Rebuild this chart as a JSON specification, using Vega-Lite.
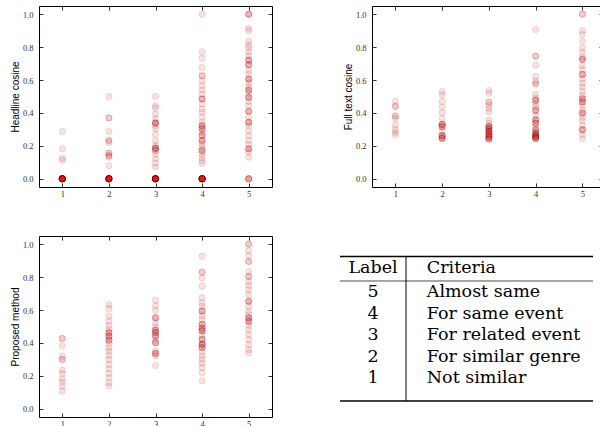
{
  "$schema": "https://vega.github.io/schema/vega-lite/v6.json",
  "padding": {"left": 9, "top": 5, "right": 0, "bottom": 0},
  "spacing": 37,
  "config": {
    "font": "Liberation Sans",
    "view": {"stroke": "black", "strokeWidth": 1},
    "axis": {
      "domain": false, "grid": false,
      "labelFont": "Liberation Serif", "labelFontSize": 8.5, "labelColor": "#333",
      "labelFlush": false, "labelOverlap": false,
      "tickColor": "black", "tickSize": -4, "tickWidth": 0.8,
      "titleFont": "Liberation Sans", "titleFontSize": 10, "titleFontWeight": "normal", "titleColor": "black", "titlePadding": 2
    },
    "axisX": {"labelPadding": 6},
    "axisY": {"labelPadding": 10}
  },
  "datasets": {
    "headline": [
      {"label":1,"score":0},{"label":1,"score":0},{"label":1,"score":0},{"label":1,"score":0},{"label":1,"score":0},{"label":1,"score":0},{"label":1,"score":0},{"label":1,"score":0},{"label":1,"score":0},{"label":1,"score":0},
      {"label":1,"score":0},{"label":1,"score":0},{"label":1,"score":0},{"label":1,"score":0},{"label":1,"score":0},{"label":1,"score":0},{"label":1,"score":0},{"label":1,"score":0},{"label":1,"score":0},{"label":1,"score":0},
      {"label":1,"score":0.288},{"label":1,"score":0.182},{"label":1,"score":0.125},{"label":1,"score":0.113},
      {"label":2,"score":0},{"label":2,"score":0},{"label":2,"score":0},{"label":2,"score":0},{"label":2,"score":0},{"label":2,"score":0},{"label":2,"score":0},{"label":2,"score":0},{"label":2,"score":0},{"label":2,"score":0},
      {"label":2,"score":0},{"label":2,"score":0},{"label":2,"score":0},{"label":2,"score":0},{"label":2,"score":0},{"label":2,"score":0},{"label":2,"score":0},{"label":2,"score":0},{"label":2,"score":0},{"label":2,"score":0},
      {"label":2,"score":0.499},{"label":2,"score":0.37},{"label":2,"score":0.37},{"label":2,"score":0.287},{"label":2,"score":0.233},{"label":2,"score":0.233},{"label":2,"score":0.22},{"label":2,"score":0.156},{"label":2,"score":0.156},{"label":2,"score":0.141},{"label":2,"score":0.141},{"label":2,"score":0.131},{"label":2,"score":0.079},
      {"label":3,"score":0},{"label":3,"score":0},{"label":3,"score":0},{"label":3,"score":0},{"label":3,"score":0},{"label":3,"score":0},{"label":3,"score":0},{"label":3,"score":0},{"label":3,"score":0},{"label":3,"score":0},
      {"label":3,"score":0},{"label":3,"score":0},{"label":3,"score":0},{"label":3,"score":0},{"label":3,"score":0},{"label":3,"score":0},{"label":3,"score":0},{"label":3,"score":0},{"label":3,"score":0},{"label":3,"score":0},
      {"label":3,"score":0.5},{"label":3,"score":0.444},{"label":3,"score":0.43},{"label":3,"score":0.394},{"label":3,"score":0.364},{"label":3,"score":0.339},{"label":3,"score":0.339},{"label":3,"score":0.339},{"label":3,"score":0.339},{"label":3,"score":0.323},{"label":3,"score":0.303},{"label":3,"score":0.27},{"label":3,"score":0.232},{"label":3,"score":0.202},{"label":3,"score":0.186},{"label":3,"score":0.186},{"label":3,"score":0.186},{"label":3,"score":0.186},{"label":3,"score":0.172},{"label":3,"score":0.172},{"label":3,"score":0.15},{"label":3,"score":0.121},{"label":3,"score":0.095},{"label":3,"score":0.071},
      {"label":4,"score":0},{"label":4,"score":0},{"label":4,"score":0},{"label":4,"score":0},{"label":4,"score":0},{"label":4,"score":0},{"label":4,"score":0},{"label":4,"score":0},{"label":4,"score":0},{"label":4,"score":0},
      {"label":4,"score":0},{"label":4,"score":0},{"label":4,"score":0},{"label":4,"score":0},{"label":4,"score":0},{"label":4,"score":0},{"label":4,"score":0},{"label":4,"score":0},{"label":4,"score":0},{"label":4,"score":0},
      {"label":4,"score":1.0},{"label":4,"score":0.772},{"label":4,"score":0.733},{"label":4,"score":0.677},{"label":4,"score":0.626},{"label":4,"score":0.626},{"label":4,"score":0.596},{"label":4,"score":0.566},{"label":4,"score":0.539},{"label":4,"score":0.515},{"label":4,"score":0.485},{"label":4,"score":0.485},{"label":4,"score":0.485},{"label":4,"score":0.455},{"label":4,"score":0.424},{"label":4,"score":0.404},{"label":4,"score":0.374},{"label":4,"score":0.343},{"label":4,"score":0.323},{"label":4,"score":0.323},{"label":4,"score":0.323},{"label":4,"score":0.303},{"label":4,"score":0.303},{"label":4,"score":0.303},{"label":4,"score":0.283},{"label":4,"score":0.263},{"label":4,"score":0.263},{"label":4,"score":0.263},{"label":4,"score":0.232},{"label":4,"score":0.232},{"label":4,"score":0.232},{"label":4,"score":0.212},{"label":4,"score":0.192},{"label":4,"score":0.172},{"label":4,"score":0.172},{"label":4,"score":0.172},{"label":4,"score":0.152},{"label":4,"score":0.131},{"label":4,"score":0.111},{"label":4,"score":0.095},
      {"label":5,"score":0},{"label":5,"score":0},{"label":5,"score":0},{"label":5,"score":0},
      {"label":5,"score":1.0},{"label":5,"score":1.0},{"label":5,"score":1.0},{"label":5,"score":0.915},{"label":5,"score":0.9},{"label":5,"score":0.838},{"label":5,"score":0.814},{"label":5,"score":0.798},{"label":5,"score":0.772},{"label":5,"score":0.747},{"label":5,"score":0.721},{"label":5,"score":0.721},{"label":5,"score":0.721},{"label":5,"score":0.693},{"label":5,"score":0.693},{"label":5,"score":0.693},{"label":5,"score":0.66},{"label":5,"score":0.636},{"label":5,"score":0.606},{"label":5,"score":0.606},{"label":5,"score":0.606},{"label":5,"score":0.582},{"label":5,"score":0.56},{"label":5,"score":0.539},{"label":5,"score":0.539},{"label":5,"score":0.539},{"label":5,"score":0.519},{"label":5,"score":0.495},{"label":5,"score":0.495},{"label":5,"score":0.495},{"label":5,"score":0.47},{"label":5,"score":0.444},{"label":5,"score":0.41},{"label":5,"score":0.41},{"label":5,"score":0.41},{"label":5,"score":0.374},{"label":5,"score":0.343},{"label":5,"score":0.343},{"label":5,"score":0.343},{"label":5,"score":0.323},{"label":5,"score":0.293},{"label":5,"score":0.263},{"label":5,"score":0.232},{"label":5,"score":0.208},{"label":5,"score":0.182},{"label":5,"score":0.182},{"label":5,"score":0.182},{"label":5,"score":0.162},{"label":5,"score":0.131}
    ],
    "fulltext": [
      {"label":1,"score":0.47},{"label":1,"score":0.44},{"label":1,"score":0.44},{"label":1,"score":0.382},{"label":1,"score":0.382},{"label":1,"score":0.366},{"label":1,"score":0.326},{"label":1,"score":0.3},{"label":1,"score":0.282},{"label":1,"score":0.266},
      {"label":2,"score":0.53},{"label":2,"score":0.51},{"label":2,"score":0.47},{"label":2,"score":0.436},{"label":2,"score":0.402},{"label":2,"score":0.366},{"label":2,"score":0.33},{"label":2,"score":0.33},{"label":2,"score":0.33},{"label":2,"score":0.33},{"label":2,"score":0.316},{"label":2,"score":0.316},{"label":2,"score":0.316},{"label":2,"score":0.29},{"label":2,"score":0.262},{"label":2,"score":0.262},{"label":2,"score":0.262},{"label":2,"score":0.262},{"label":2,"score":0.246},{"label":2,"score":0.246},{"label":2,"score":0.246},{"label":2,"score":0.246},
      {"label":3,"score":0.536},{"label":3,"score":0.52},{"label":3,"score":0.466},{"label":3,"score":0.466},{"label":3,"score":0.446},{"label":3,"score":0.426},{"label":3,"score":0.406},{"label":3,"score":0.356},{"label":3,"score":0.336},{"label":3,"score":0.316},{"label":3,"score":0.316},{"label":3,"score":0.316},{"label":3,"score":0.316},{"label":3,"score":0.302},{"label":3,"score":0.302},{"label":3,"score":0.302},{"label":3,"score":0.302},{"label":3,"score":0.286},{"label":3,"score":0.286},{"label":3,"score":0.286},{"label":3,"score":0.286},{"label":3,"score":0.27},{"label":3,"score":0.27},{"label":3,"score":0.27},{"label":3,"score":0.27},{"label":3,"score":0.256},{"label":3,"score":0.256},{"label":3,"score":0.256},{"label":3,"score":0.256},{"label":3,"score":0.242},{"label":3,"score":0.242},{"label":3,"score":0.242},{"label":3,"score":0.242},
      {"label":4,"score":0.907},{"label":4,"score":0.745},{"label":4,"score":0.745},{"label":4,"score":0.69},{"label":4,"score":0.622},{"label":4,"score":0.593},{"label":4,"score":0.577},{"label":4,"score":0.577},{"label":4,"score":0.512},{"label":4,"score":0.492},{"label":4,"score":0.476},{"label":4,"score":0.476},{"label":4,"score":0.476},{"label":4,"score":0.455},{"label":4,"score":0.435},{"label":4,"score":0.415},{"label":4,"score":0.415},{"label":4,"score":0.415},{"label":4,"score":0.385},{"label":4,"score":0.358},{"label":4,"score":0.358},{"label":4,"score":0.358},{"label":4,"score":0.338},{"label":4,"score":0.338},{"label":4,"score":0.338},{"label":4,"score":0.318},{"label":4,"score":0.298},{"label":4,"score":0.298},{"label":4,"score":0.298},{"label":4,"score":0.277},{"label":4,"score":0.277},{"label":4,"score":0.277},{"label":4,"score":0.277},{"label":4,"score":0.263},{"label":4,"score":0.263},{"label":4,"score":0.263},{"label":4,"score":0.263},{"label":4,"score":0.253},{"label":4,"score":0.253},{"label":4,"score":0.253},{"label":4,"score":0.253},{"label":4,"score":0.243},{"label":4,"score":0.243},{"label":4,"score":0.243},
      {"label":5,"score":1.0},{"label":5,"score":1.0},{"label":5,"score":0.9},{"label":5,"score":0.877},{"label":5,"score":0.834},{"label":5,"score":0.796},{"label":5,"score":0.769},{"label":5,"score":0.739},{"label":5,"score":0.725},{"label":5,"score":0.725},{"label":5,"score":0.725},{"label":5,"score":0.688},{"label":5,"score":0.664},{"label":5,"score":0.634},{"label":5,"score":0.634},{"label":5,"score":0.634},{"label":5,"score":0.607},{"label":5,"score":0.581},{"label":5,"score":0.557},{"label":5,"score":0.532},{"label":5,"score":0.506},{"label":5,"score":0.486},{"label":5,"score":0.486},{"label":5,"score":0.486},{"label":5,"score":0.466},{"label":5,"score":0.466},{"label":5,"score":0.466},{"label":5,"score":0.445},{"label":5,"score":0.419},{"label":5,"score":0.399},{"label":5,"score":0.399},{"label":5,"score":0.399},{"label":5,"score":0.374},{"label":5,"score":0.354},{"label":5,"score":0.324},{"label":5,"score":0.298},{"label":5,"score":0.298},{"label":5,"score":0.298},{"label":5,"score":0.269},{"label":5,"score":0.243}
    ],
    "proposed": [
      {"label":1,"score":0.427},{"label":1,"score":0.427},{"label":1,"score":0.381},{"label":1,"score":0.32},{"label":1,"score":0.3},{"label":1,"score":0.3},{"label":1,"score":0.235},{"label":1,"score":0.215},{"label":1,"score":0.182},{"label":1,"score":0.162},{"label":1,"score":0.138},{"label":1,"score":0.107},
      {"label":2,"score":0.632},{"label":2,"score":0.608},{"label":2,"score":0.563},{"label":2,"score":0.532},{"label":2,"score":0.506},{"label":2,"score":0.482},{"label":2,"score":0.462},{"label":2,"score":0.462},{"label":2,"score":0.462},{"label":2,"score":0.441},{"label":2,"score":0.441},{"label":2,"score":0.441},{"label":2,"score":0.417},{"label":2,"score":0.417},{"label":2,"score":0.417},{"label":2,"score":0.397},{"label":2,"score":0.37},{"label":2,"score":0.35},{"label":2,"score":0.324},{"label":2,"score":0.3},{"label":2,"score":0.269},{"label":2,"score":0.243},{"label":2,"score":0.215},{"label":2,"score":0.188},{"label":2,"score":0.158},{"label":2,"score":0.138},
      {"label":3,"score":0.66},{"label":3,"score":0.627},{"label":3,"score":0.6},{"label":3,"score":0.553},{"label":3,"score":0.553},{"label":3,"score":0.553},{"label":3,"score":0.522},{"label":3,"score":0.498},{"label":3,"score":0.478},{"label":3,"score":0.478},{"label":3,"score":0.478},{"label":3,"score":0.462},{"label":3,"score":0.462},{"label":3,"score":0.462},{"label":3,"score":0.441},{"label":3,"score":0.441},{"label":3,"score":0.441},{"label":3,"score":0.417},{"label":3,"score":0.401},{"label":3,"score":0.401},{"label":3,"score":0.401},{"label":3,"score":0.35},{"label":3,"score":0.336},{"label":3,"score":0.336},{"label":3,"score":0.336},{"label":3,"score":0.32},{"label":3,"score":0.263},
      {"label":4,"score":0.927},{"label":4,"score":0.83},{"label":4,"score":0.83},{"label":4,"score":0.794},{"label":4,"score":0.745},{"label":4,"score":0.675},{"label":4,"score":0.644},{"label":4,"score":0.624},{"label":4,"score":0.594},{"label":4,"score":0.594},{"label":4,"score":0.594},{"label":4,"score":0.564},{"label":4,"score":0.543},{"label":4,"score":0.513},{"label":4,"score":0.513},{"label":4,"score":0.513},{"label":4,"score":0.489},{"label":4,"score":0.489},{"label":4,"score":0.489},{"label":4,"score":0.473},{"label":4,"score":0.473},{"label":4,"score":0.473},{"label":4,"score":0.448},{"label":4,"score":0.422},{"label":4,"score":0.422},{"label":4,"score":0.422},{"label":4,"score":0.392},{"label":4,"score":0.392},{"label":4,"score":0.392},{"label":4,"score":0.392},{"label":4,"score":0.372},{"label":4,"score":0.372},{"label":4,"score":0.372},{"label":4,"score":0.347},{"label":4,"score":0.321},{"label":4,"score":0.301},{"label":4,"score":0.277},{"label":4,"score":0.251},{"label":4,"score":0.22},{"label":4,"score":0.17},
      {"label":5,"score":1.0},{"label":5,"score":1.0},{"label":5,"score":0.96},{"label":5,"score":0.931},{"label":5,"score":0.895},{"label":5,"score":0.895},{"label":5,"score":0.834},{"label":5,"score":0.804},{"label":5,"score":0.804},{"label":5,"score":0.774},{"label":5,"score":0.749},{"label":5,"score":0.723},{"label":5,"score":0.693},{"label":5,"score":0.653},{"label":5,"score":0.653},{"label":5,"score":0.653},{"label":5,"score":0.622},{"label":5,"score":0.592},{"label":5,"score":0.572},{"label":5,"score":0.552},{"label":5,"score":0.552},{"label":5,"score":0.552},{"label":5,"score":0.531},{"label":5,"score":0.531},{"label":5,"score":0.531},{"label":5,"score":0.507},{"label":5,"score":0.481},{"label":5,"score":0.451},{"label":5,"score":0.42},{"label":5,"score":0.39},{"label":5,"score":0.36},{"label":5,"score":0.34}
    ],
    "criteria": [
      {"label":5,"criteria":"Almost same"},
      {"label":4,"criteria":"For same event"},
      {"label":3,"criteria":"For related event"},
      {"label":2,"criteria":"For similar genre"},
      {"label":1,"criteria":"Not similar"}
    ]
  },
  "vconcat": [
    {
      "spacing": 69,
      "hconcat": [
        {
          "width": 233, "height": 181,
          "data": {"name": "headline"},
          "layer": [
            {
              "mark": {"type": "circle", "size": 40, "fill": "red", "fillOpacity": 0.12, "stroke": "black", "strokeOpacity": 0.12, "strokeWidth": 0.8},
              "encoding": {
                "x": {"field": "label", "type": "quantitative", "scale": {"domain": [0.5, 5.5], "nice": false, "zero": false}, "axis": {"values": [1,2,3,4,5], "format": "d", "title": null}},
                "y": {"field": "score", "type": "quantitative", "scale": {"domain": [-0.05, 1.05], "nice": false, "zero": false}, "axis": {"values": [0,0.2,0.4,0.6,0.8,1.0], "format": ".1f", "title": "Headline cosine"}}
              }
            },
            {
              "mark": {"type": "circle", "opacity": 0},
              "encoding": {
                "x": {"field": "label", "type": "quantitative", "scale": {"domain": [0.5, 5.5], "nice": false, "zero": false}, "axis": {"orient": "top", "values": [1,2,3,4,5], "labels": false, "title": null}},
                "y": {"field": "score", "type": "quantitative", "scale": {"domain": [-0.05, 1.05], "nice": false, "zero": false}, "axis": {"orient": "right", "values": [0,0.2,0.4,0.6,0.8,1.0], "labels": false, "title": null}}
              }
            }
          ],
          "resolve": {"scale": {"x": "independent", "y": "independent"}, "axis": {"x": "independent", "y": "independent"}}
        },
        {
          "width": 231, "height": 181,
          "data": {"name": "fulltext"},
          "layer": [
            {
              "mark": {"type": "circle", "size": 40, "fill": "red", "fillOpacity": 0.12, "stroke": "black", "strokeOpacity": 0.12, "strokeWidth": 0.8},
              "encoding": {
                "x": {"field": "label", "type": "quantitative", "scale": {"domain": [0.5, 5.44], "nice": false, "zero": false}, "axis": {"values": [1,2,3,4,5], "format": "d", "title": null}},
                "y": {"field": "score", "type": "quantitative", "scale": {"domain": [-0.05, 1.05], "nice": false, "zero": false}, "axis": {"values": [0,0.2,0.4,0.6,0.8,1.0], "format": ".1f", "title": "Full text cosine"}}
              }
            },
            {
              "mark": {"type": "circle", "opacity": 0},
              "encoding": {
                "x": {"field": "label", "type": "quantitative", "scale": {"domain": [0.5, 5.44], "nice": false, "zero": false}, "axis": {"orient": "top", "values": [1,2,3,4,5], "labels": false, "title": null}},
                "y": {"field": "score", "type": "quantitative", "scale": {"domain": [-0.05, 1.05], "nice": false, "zero": false}, "axis": {"orient": "right", "values": [0,0.2,0.4,0.6,0.8,1.0], "labels": false, "title": null}}
              }
            }
          ],
          "resolve": {"scale": {"x": "independent", "y": "independent"}, "axis": {"x": "independent", "y": "independent"}}
        }
      ]
    },
    {
      "spacing": 66,
      "hconcat": [
        {
          "width": 233, "height": 181,
          "data": {"name": "proposed"},
          "layer": [
            {
              "mark": {"type": "circle", "size": 40, "fill": "red", "fillOpacity": 0.12, "stroke": "black", "strokeOpacity": 0.12, "strokeWidth": 0.8},
              "encoding": {
                "x": {"field": "label", "type": "quantitative", "scale": {"domain": [0.5, 5.5], "nice": false, "zero": false}, "axis": {"values": [1,2,3,4,5], "format": "d", "title": null}},
                "y": {"field": "score", "type": "quantitative", "scale": {"domain": [-0.05, 1.05], "nice": false, "zero": false}, "axis": {"values": [0,0.2,0.4,0.6,0.8,1.0], "format": ".1f", "title": "Proposed method"}}
              }
            },
            {
              "mark": {"type": "circle", "opacity": 0},
              "encoding": {
                "x": {"field": "label", "type": "quantitative", "scale": {"domain": [0.5, 5.5], "nice": false, "zero": false}, "axis": {"orient": "top", "values": [1,2,3,4,5], "labels": false, "title": null}},
                "y": {"field": "score", "type": "quantitative", "scale": {"domain": [-0.05, 1.05], "nice": false, "zero": false}, "axis": {"orient": "right", "values": [0,0.2,0.4,0.6,0.8,1.0], "labels": false, "title": null}}
              }
            }
          ],
          "resolve": {"scale": {"x": "independent", "y": "independent"}, "axis": {"x": "independent", "y": "independent"}}
        },
        {
          "width": 253, "height": 181,
          "view": {"stroke": null},
          "data": {"name": "criteria"},
          "layer": [
            {
              "mark": {"type": "text", "font": "DejaVu Serif", "fontSize": 17.5, "align": "center", "baseline": "middle", "color": "black"},
              "encoding": {
                "x": {"datum": 0.1304, "type": "quantitative", "scale": {"domain": [0, 1], "nice": false, "zero": false}, "axis": null},
                "y": {"field": "label", "type": "quantitative", "scale": {"domain": [-0.791, 7.628], "nice": false, "zero": false}, "axis": null},
                "text": {"field": "label", "type": "nominal"}
              }
            },
            {
              "mark": {"type": "text", "font": "DejaVu Serif", "fontSize": 17.5, "align": "left", "baseline": "middle", "color": "black"},
              "encoding": {
                "x": {"datum": 0.343, "type": "quantitative", "scale": {"domain": [0, 1], "nice": false, "zero": false}, "axis": null},
                "y": {"field": "label", "type": "quantitative", "scale": {"domain": [-0.791, 7.628], "nice": false, "zero": false}, "axis": null},
                "text": {"field": "criteria", "type": "nominal"}
              }
            },
            {
              "data": {"values": [{"header": "Label"}]},
              "mark": {"type": "text", "font": "DejaVu Serif", "fontSize": 17.5, "align": "center", "baseline": "middle", "color": "black"},
              "encoding": {
                "x": {"datum": 0.1304, "type": "quantitative", "scale": {"domain": [0, 1], "nice": false, "zero": false}, "axis": null},
                "y": {"datum": 6.16, "type": "quantitative", "scale": {"domain": [-0.791, 7.628], "nice": false, "zero": false}, "axis": null},
                "text": {"field": "header", "type": "nominal"}
              }
            },
            {
              "data": {"values": [{"header": "Criteria"}]},
              "mark": {"type": "text", "font": "DejaVu Serif", "fontSize": 17.5, "align": "left", "baseline": "middle", "color": "black"},
              "encoding": {
                "x": {"datum": 0.343, "type": "quantitative", "scale": {"domain": [0, 1], "nice": false, "zero": false}, "axis": null},
                "y": {"datum": 6.16, "type": "quantitative", "scale": {"domain": [-0.791, 7.628], "nice": false, "zero": false}, "axis": null},
                "text": {"field": "header", "type": "nominal"}
              }
            },
            {
              "data": {"values": [{"rule": "top"}]},
              "mark": {"type": "rule", "color": "black", "strokeWidth": 1.4},
              "encoding": {
                "x": {"datum": 0, "type": "quantitative", "scale": {"domain": [0, 1], "nice": false, "zero": false}, "axis": null},
                "x2": {"datum": 1},
                "y": {"datum": 6.674, "type": "quantitative", "scale": {"domain": [-0.791, 7.628], "nice": false, "zero": false}, "axis": null}
              }
            },
            {
              "data": {"values": [{"rule": "mid"}]},
              "mark": {"type": "rule", "color": "black", "strokeWidth": 0.7},
              "encoding": {
                "x": {"datum": 0, "type": "quantitative", "scale": {"domain": [0, 1], "nice": false, "zero": false}, "axis": null},
                "x2": {"datum": 1},
                "y": {"datum": 5.535, "type": "quantitative", "scale": {"domain": [-0.791, 7.628], "nice": false, "zero": false}, "axis": null}
              }
            },
            {
              "data": {"values": [{"rule": "bottom"}]},
              "mark": {"type": "rule", "color": "black", "strokeWidth": 1.4},
              "encoding": {
                "x": {"datum": 0, "type": "quantitative", "scale": {"domain": [0, 1], "nice": false, "zero": false}, "axis": null},
                "x2": {"datum": 1},
                "y": {"datum": -0.047, "type": "quantitative", "scale": {"domain": [-0.791, 7.628], "nice": false, "zero": false}, "axis": null}
              }
            },
            {
              "data": {"values": [{"rule": "vertical"}]},
              "mark": {"type": "rule", "color": "black", "strokeWidth": 1},
              "encoding": {
                "x": {"datum": 0.2609, "type": "quantitative", "scale": {"domain": [0, 1], "nice": false, "zero": false}, "axis": null},
                "y": {"datum": 6.674, "type": "quantitative", "scale": {"domain": [-0.791, 7.628], "nice": false, "zero": false}, "axis": null},
                "y2": {"datum": -0.047}
              }
            }
          ]
        }
      ]
    }
  ]
}
